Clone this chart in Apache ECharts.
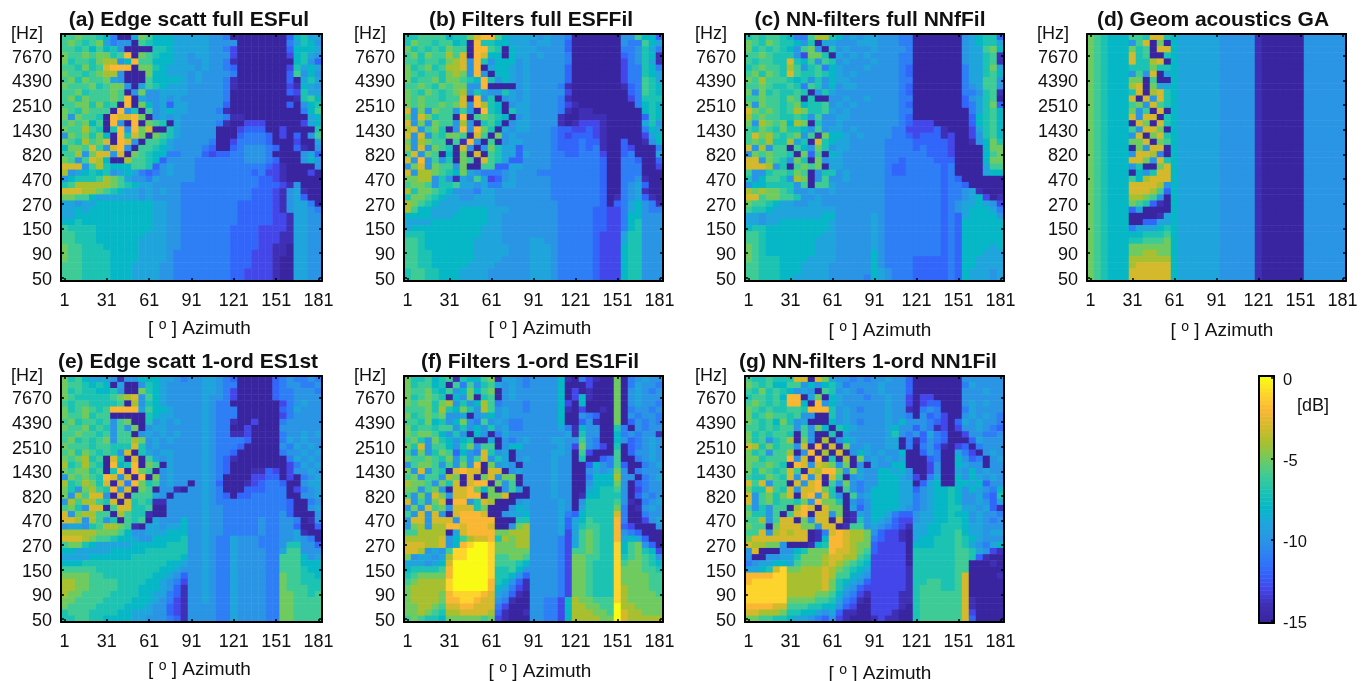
<!DOCTYPE html>
<html><head><meta charset="utf-8">
<style>html,body{margin:0;background:#fff}#c{width:1368px;height:681px}</style>
<script src="https://cdn.jsdelivr.net/npm/echarts@6/dist/echarts.min.js"></script>
</head><body><div id="c"></div><script>
// 37 azimuth columns, 40 frequency rows.
const azimuth=['1','6','11','16','21','26','31','36','41','46','51','56','61','66','71','76','81','86','91','96','101','106','111','116','121','126','131','136','141','146','151','156','161','166','171','176','181'];
const freqLabels=['50','','','','90','','','','150','','','','270','','','','470','','','','820','','','','1430','','','','2510','','','','4390','','','','7670','','',''];
const barLevels=[-15,-14.75,-14.5,-14.25,-14,-13.75,-13.5,-13.25,-13,-12.75,-12.5,-12.25,-12,-11.75,-11.5,-11.25,-11,-10.75,-10.5,-10.25,-10,-9.75,-9.5,-9.25,-9,-8.75,-8.5,-8.25,-8,-7.75,-7.5,-7.25,-7,-6.75,-6.5,-6.25,-6,-5.75,-5.5,-5.25,-5,-4.75,-4.5,-4.25,-4,-3.75,-3.5,-3.25,-3,-2.75,-2.5,-2.25,-2,-1.75,-1.5,-1.25,-1,-0.75,-0.5,-0.25,0];
// Cell values: attenuation in dB as one hex digit (0 = 0 dB ... f = -15 dB), top row first.
const panelA=[
'665667 8bff95 688899 999aab ffffff ffc879 9',
'656765 9baaf6 788899 999aaa afffff ffb978 a',
'667686 87afff f77899 999aab dfffff ffc888 9',
'566565 5762f5 678899 a99aaa dfffff ffd879 a',
'576675 44a826 688899 aa9aab efffff fff87a c',
'667576 3222f5 578999 9a9aab cfffff ffd798 9',
'566765 44afff 588999 a9aaaa bfffff ffc6a8 a',
'657566 59afff 688889 a9aaab efffff ffcf97 9',
'566657 655af9 678999 aaaaab efffff ffde89 a',
'665766 656fa5 aa9999 aaaaab ffffff ffcd79 9',
'657566 6562f9 aa9a9a aaaaab ffffff fffe76 8',
'665575 76f2f5 8a9c99 aaaaac ffffff ffcfa8 7',
'567566 6f2a7f 6a9899 aaaabe ffffff ffffb8 6',
'5a5667 f23325 fa9a9a aaaaab eeffff fffff9 8',
'656586 f2af2f 567f9a aaaabe ffdddf ffffd9 8',
'566467 f72a25 3ff79a aaaaff fdcccf fdffff 7',
'a56575 8f2735 f5679a aaaaff fcbbbc fdfcfa 6',
'567465 3f23af 6679aa aaabff dbbbbc fffdff 9',
'855636 a32af6 6789aa aabcff cbaaab cffcef a',
'664a53 3a3f56 788bba aacdcc bbaaab ffffa9 c',
'56a634 8ff466 78caaa abbbbb bbaaab cfffa8 a',
'333a64 788866 7ca9aa abbbbb bbbbbc deffff a',
'4a9878 7a989b cba9aa abbbbb bbbcbd defffd f',
'a87776 4569aa b9aaaa abbbbb bbbbcc deffff f',
'764444 456789 9aaaab bbbbbb bbbbcc cdeaff f',
'333445 67899a 9a9aab bbbbbb bbbccc dea9ef f',
'556689 99999a 9aaaab bbbbbb bbbccc dea9cf f',
'99a998 888888 899aab bbbbbb bccccc dea99b f',
'998988 888888 899aab bbbbbb bccccc dea99a b',
'998888 888888 899aab bbbbbb bccccc dde99a a',
'887888 888888 899aab bbbbbb bccccc dde99a a',
'677778 888888 899aab bbbbbb ccccdd dde99a a',
'667778 888888 999aab bbbbbb ccccdd dee99a a',
'667778 888889 999aab bbbbbb ccccdd dee99a a',
'566777 888889 999aab bbbbbb ccccdd eef99a a',
'566777 788889 999abb bbbbbb cccddd eef99a a',
'566777 788889 999abb bbbbbb cccddd eff99a a',
'666777 788899 99aabb bbbbbb cccddd eff99a a',
'666777 788899 99aabb bbbbbb ccdddd eff99a a',
'666777 788899 99aabb bbbbbb ccdddd eff99a a'];
const panelB=[
'776666 877532 268999 9a9aab ffffff faa688 c',
'756676 687f27 788999 a99aac ffffff fabb68 9',
'576767 566f22 67f899 9aaaac ffffff fbba79 b',
'657566 463f23 88f899 a9aaab ffffff fcba78 e',
'667667 543a27 a888a9 aaaaab ffffff fdba79 e',
'576576 443a2f 9889a9 aaaaac ffffff fdbb78 b',
'567667 545a2a f889a9 aaaaac ffffff fdbb78 9',
'576657 556782 7a89a9 aaaaac ffffff fdbb67 9',
'665675 655aa2 ffffa9 aaaabe ffffff fecb67 8',
'567567 654a79 aa79a9 aaaaad ffffff ffcb67 8',
'565667 663f2a 7fa9a9 aaaabe ffffff ffdb77 7',
'565665 653a24 78fa99 aaaabd efffff fffb87 8',
'3a5a56 6a6af2 78f799 aaaabe feefff ffff87 8',
'5a3576 6f2f65 678fa9 aaaaef feeeef ffffc7 8',
'3a5a56 6a4af7 68fa99 aaaaef edddef ffff97 a',
'43a657 fa2a25 7f9a99 aaabcc ddcdef ffffb8 9',
'3a3a67 556f36 f5a9aa aaabcd cccdef ffffd9 8',
'5a4566 f6e2af 6fa99a aaabcc cbccef fcffea 8',
'4a3a56 7f3afa 5799ca aaabcc cbcbef fcdfff b',
'63a56f 8f5f3f 6799c9 aaabbc cbbbdf fcbfff 9',
'3a2a6a 7f56f3 679cca aaabbb bbbbcf fbbcff c',
'a53a56 6a5ff6 6cc99a aaabbb bbbbcf fbbbff d',
'3a4456 7859ab bba9aa abbbbb bbbbcf fbbbff f',
'5544a7 ae9a69 dca9aa aaabbb bbbbcf fbbaef f',
'6556a7 7699a9 bb99aa aaabbb bbbbcf fba9cf f',
'475567 8aaab9 9aaaaa aaabbb bbbbcf fba9ef f',
'755678 99aa99 9aaaaa aaabbb bbbbcf eba9ce f',
'456789 999999 9aaaaa aaaabb bbbbcf cb98ab e',
'468899 998888 999aaa aaaabb bbbccd db98ab b',
'888899 988888 99aaaa aaaabb bbbccd db88aa a',
'999988 888888 99aaaa aaaabb bbbccd db87aa a',
'988888 888889 99aaaa aaaabb bbbccd db87aa a',
'777888 888889 99aaaa aaaabb bbbcdd d977aa a',
'667888 888899 99aaaa 99aabb bbbcdd d977aa a',
'667888 888899 999aaa 999abb bbbcdd d877aa a',
'667788 888899 999aaa 999abb bbbcdd d877aa a',
'667788 888899 99aaaa 999abb bbbcdd d877aa a',
'667788 888999 9aaaaa 999abb bbbcdd d877aa a',
'766778 889999 aaaaaa 999abb bbbcdd d877aa a',
'766778 889999 aaaaaa 999abb bbbcdd d877aa a'];
const panelC=[
'767667 8bb644 78a9a9 9aaabb ffffff fa9877 c',
'567567 78a7f9 9aaa99 9aaabb ffffff fa9877 9',
'576767 8a65af 7a9aaa 9aaaab ffffff fa9965 8',
'665677 7ad557 f9a9a9 aaaabb ffffff fa9976 e',
'676677 3786a6 7a9aaa 9aaabb ffffff fa9976 e',
'765667 46a76b 89aaa9 aaaabc ffffff fb9975 9',
'657567 367767 89a9aa aaaabc ffffff fb9976 8',
'564666 787a7a 899aaa aaaabb ffffff fb9966 a',
'665677 67b67a 8a99aa aaaabc ffffff fba966 a',
'5a5767 767fa7 9aaaaa aaaabc ffffff fbba76 e',
'665667 56f7ff aa9aa9 aaaabb ffffff fca976 f',
'5a5667 658776 a9a9aa aaaabc ffffff fcb975 c',
'356567 645776 9a9aaa aaaabb ffffff ffb976 8',
'465667 767a6a a99aaa aaaabc ffffff ffc876 8',
'5a4565 845f7a a9aaaa aaaabc dddfff ffc876 8',
'675675 778a6a 99a9aa aaabbd dddcef ffd976 8',
'635467 65a6e5 889a9a aaabbc dccced ffda76 8',
'656477 497f37 899aaa aabbbb cccccd ffea85 7',
'3a4a66 f68a57 a99aaa aabbbb cbcccd ffff85 5',
'a56566 7f5c6f 89aaaa aabbbb bbcccd ffff86 5',
'33a567 a57f5a 99aaaa aabbcb bbbccc ffff85 5',
'3334a7 f6565f 99aaaa aabccb bbbbcb ffff96 6',
'6aa766 756fa7 7a9aaa aabccb bbbbcb ffff98 8',
'7a8667 a45fa6 aa9aaa aabbbb bbbbcb cfffff f',
'a88777 7a6f66 9aaaaa aabbbb bbbbcb bcffff f',
'454556 7aa9aa 9aaaaa aabbbb bbbbcb ba9eff f',
'336556 67aa9a aaaaaa aabbbb bbbbcb ba98df e',
'566789 9aa99a aaaaaa aabbbb bbbbcb a9989a d',
'677899 999999 9aaaaa aabbbb bbbbcb a98889 b',
'99a999 999998 8aaaaa 9abbbb bbbbcb c98888 a',
'99a998 888888 9aaaaa 9abbbb bbbbcb c88888 8',
'877888 888888 9aaaaa 9abbbb bbbbcb c88888 8',
'667888 888889 9aaaaa 9abbbb bbbbcb c88888 8',
'667888 888899 9aaaaa 9abbbb bbbbcb c88888 8',
'567888 888899 9aaaaa 9abbbb bbbbcb c88889 8',
'567888 888899 9aaaaa 8abbbb bbbbcb c88899 9',
'567778 888999 9aaaaa 8abbbb cccccb c88999 9',
'667778 889999 aaaaaa 8abbbb cccccb c88999 9',
'667778 889999 aaaaaa 89abbb cccccb c8999a 9',
'667778 899999 aaaaab 89abbb cccccb c8999a 9'];
const panelD=[
'567888 667337 899999 9aaaaa efffff faaaaa a',
'567888 a63f5f 899999 9aaaaa efffff faaaaa a',
'567888 576f33 899999 9aaaaa efffff faaaaa a',
'567888 376ff7 899999 9aaaaa efffff faaaaa a',
'567888 37743f 899999 9aaaaa efffff faaaaa a',
'567888 777577 899999 9aaaaa efffff faaaaa a',
'567888 a6a3f9 899999 9aaaaa efffff faaaaa a',
'567888 55f6ff 899999 9aaaaa efffff faaaaa a',
'567888 43f599 899999 9aaaaa efffff faaaaa a',
'567888 73f437 899999 9aaaaa efffff faaaaa a',
'567888 3f3a37 899999 9aaaaa efffff faaaaa a',
'567888 65a367 899999 9aaaaa efffff faaaaa a',
'567888 5a6f3f 899999 9aaaaa efffff faaaaa a',
'567888 3a33f7 899999 9aaaaa efffff faaaaa a',
'567888 f35f37 899999 9aaaaa efffff faaaaa a',
'567888 6a335f 899999 9aaaaa efffff faaaaa a',
'567888 a3f537 899999 9aaaaa efffff faaaaa a',
'567888 553f56 899999 9aaaaa efffff faaaaa a',
'567888 f5a33f 899999 9aaaaa efffff faaaaa a',
'567888 a334bf 899999 9aaaaa efffff faaaaa a',
'567888 335a37 899999 9aaaaa efffff faaaaa a',
'567888 a7ff53 899999 9aaaaa efffff faaaaa a',
'567888 f8a733 899999 9aaaaa efffff faaaaa a',
'567888 684333 899999 9aaaaa efffff faaaaa a',
'567888 33334a 899999 9aaaaa efffff faaaaa a',
'567888 33346c 899999 9aaaaa efffff faaaaa a',
'567888 4456af 899999 9aaaaa efffff faaaaa a',
'567888 567cef 899999 9aaaaa efffff faaaaa a',
'567888 c9ffff 899999 9aaaaa efffff faaaaa a',
'567888 ffffe9 899999 9aaaaa efffff faaaaa a',
'567888 ffcc99 899999 9aaaaa efffff faaaaa a',
'567888 b99987 899999 9aaaaa efffff faaaaa a',
'567888 887776 899999 9aaaaa efffff faaaaa a',
'567888 776665 899999 9aaaaa efffff faaaaa a',
'567888 555555 899999 9aaaaa efffff faaaaa a',
'567888 554455 899999 9aaaaa efffff faaaaa a',
'567888 444444 899999 9aaaaa efffff faaaaa a',
'567888 433333 899999 9aaaaa efffff faaaaa a',
'567888 333333 899999 9aaaaa efffff faaaaa a',
'567888 333333 899999 9aaaaa efffff faaaaa a'];
const panelE=[
'576899 9aeaa8 8899ab aa99ab cfffff cbabba b',
'566787 8f9ffa 789aaa aa99ab bfffff cbaabb a',
'576778 87aff5 789aaa aa99ab dfffff cbbaaa b',
'567777 76543a 689aaa aa9aab dfffff cbbaaa a',
'676677 776f4a 789aaa aa9abb ffffff fdba9a a',
'576567 622229 6889aa aa9abb bfffff fcb9aa a',
'566576 6fffff 7899aa aa9abb bfffff fdbaaa a',
'657667 6a65ff 7a9a9a aa9abb effdff fbaaaa a',
'566576 7a6a5f a99aaa aa9abb ffdfff faaaaa a',
'665667 6a66fa 9a9a9a aa9abb eedfff fbaa9a 9',
'657676 5a6645 a9a9aa aa9abb bbcfff fb9a9a a',
'566676 677737 a9aaaa aa9abb bcffff fab9a9 a',
'657567 67a3f7 9a99aa aa9abb cfffff fbaa9a 9',
'565476 f37f3f 69a9aa aa9abc efffff ffb9a9 a',
'476467 f2872f 56f9aa aa9abc ffffff ffdb9a 9',
'565576 f72f25 6fa9aa aa9abc fffeec dfdaa9 a',
'a56567 23a3f2 f5a9aa aa9abf fffddc cfdfba 9',
'476457 3f3b25 76a9aa fa9acf ffedcb bcffa9 9',
'57a546 72a3f5 6faaef aa9abf ffcccb bbfdba 9',
'5a4633 af3f66 69afaa aa9abc fccbbb bbffaa 9',
'a46446 73f376 7eeaaa aa9abb bbbbbb bbcffb a',
'657a33 f63377 6ffaaa aa9aab bbbbbb bbcffa 9',
'3a5446 6f4677 effaaa aa9aab bbbbbb bacfff a',
'334a46 a7f676 f9aaa8 aa9aab bbbbab baabfe a',
'a99a76 4456ef 99a998 aa9aab bbbbab baacff c',
'444445 5568aa 999888 aa9aab bbbbab baa9ef f',
'333456 67889a a88887 aa9abb 9aaabb baa9ab f',
'655789 999988 888777 aa9abb 9aaabb ba77aa c',
'889999 988888 777777 aa9abb 9aaaab b966aa a',
'999988 888877 777778 aa9abb 9aaaab b6668a 9',
'888777 777777 777889 aa9abb 9aaaab b66688 8',
'666667 777777 77889a aa9abb 9aaaab b66678 8',
'555566 777777 7889ac aa9abb 9aaaab b56677 8',
'445566 667777 889abd aa9abb 9aaaab b56677 7',
'445566 667778 889ace aa9abb 9aaaab b56667 7',
'455666 677778 899bce aa9abb 9aaaab b55667 6',
'556666 777788 89abde aa9abb 9aaaab b55666 6',
'566667 777888 9aacde aaaabb 9aaaab b55666 6',
'766677 778899 9aacde aaaabb 9aaaab b55666 6',
'776677 888899 aaabce aaaabb 9aaaab b55666 6'];
const panelF=[
'577687 6e7886 5f99ab aaaa8e fbdeff 5fba9a a',
'576687 f6b6a7 69a9ab aaaa8f ffdfff 5fb9aa b',
'566578 6a8586 5fa9aa aaaa8f dfefff 5fa9ab a',
'576567 f8a5f7 6fa9aa aaaa8f d8efff 5fa9aa a',
'565575 4a7a84 6baaab aaaa8d f8ffff 5fa9aa b',
'666574 7857a4 6a9aab aaaa8e fdffef 5fbaab a',
'576565 aa9fa9 8a9aaa aaaa8f fabcff 5fabaa b',
'667587 a85ab6 a9abba aaaa8f fcaeff 5fcaba b',
'576676 6a7a8a 7a9bba aaaa9b e8aaff 7bfaba a',
'565568 a7af8a fb9aaa aaaaa9 e7aaff 8babaa e',
'657a57 8a87ff 9faba9 aaa99a a6abff 8acba9 a',
'573a66 8a75a6 6fa88a aaaa9a d5abdf 7fcba9 a',
'6a5a75 6c8ab3 7a9faa aaa99a f6dfff 6fcaa9 a',
'566567 5a6a63 a79fa9 aaa9aa f7ffcb 6ffba9 a',
'a6556a 6a5a2f 5a9afa aaa9aa ffc8ab 6cffba 9',
'5a3a67 f3233f 33fa9a aaa9aa ffa9a9 5afbaa a',
'65a66a 45f3f5 3a55fa aaa9aa ffb888 4aafba 9',
'4556a5 73f322 f5a6fa aaa9aa ffa888 5afcba a',
'55a65a f33258 5fa69f aaa9aa ff9877 6afdba a',
'6a5a35 a3322f 553fff aaa9aa fe8877 7afcab a',
'3a6a53 f22a73 4fffa9 aaaa9a fa7777 6aefba 9',
'a5a365 a33375 fffa89 aaaa9a f97777 5bfea9 a',
'6a3a3a f32223 ffa998 aaaa9b c87777 3bffba a',
'a33a33 3a2222 2fff77 aaaa9c 986777 2bffda 9',
'a54a44 223222 3ffa54 aaaa9c 976677 2cdfff a',
'664444 f93222 255444 aaaa9d 965677 2abcff f',
'444443 a86433 274544 aaaabd 965677 2989cf f',
'333443 a82100 155544 aaaabd 965677 1865ac f',
'334a9a 611000 155555 aaaabd 665677 186578 d',
'5a99a9 411000 166556 aaaabd 556677 176567 a',
'999a98 300000 166678 aaaabd 556777 165567 8',
'877776 200000 17768a aaaabd 556777 155566 7',
'765555 200000 1778ac aaaabd 556777 155556 6',
'654444 100000 278ace aaaabd 556777 155556 6',
'544444 100000 289bde aaaabd 556777 145556 6',
'544445 211112 39acef aaaabd 556777 145555 6',
'544445 221123 3abeff aabbd8 455666 145555 5',
'554456 332233 3bdfff aabbd8 445566 044555 5',
'554567 443333 4ceffe aabbd8 444556 034455 5',
'656778 555556 5defff aabbd8 444455 034444 4'];
const panelG=[
'677677 733f35 9aabab aa9aac ffffff faaaaa a',
'567688 66a8a8 79baaa a9aaac ffffff fb9aaa a',
'675767 8a9af6 7a9aba a9aaac ffffff faaa9a a',
'766768 22f95f 89aaab aa9aad fddfff faaaaa a',
'656767 228f2a 89aaaa aa9aad fdccff fa9a9a a',
'567677 667222 7a9aba aa9aae fbabff fb9aaa a',
'576566 76aaff 7a9aaa aa9aab facbdf fa9a9a b',
'567685 7a9fff 8a9aba aa9a8a aabcdf c9a9aa b',
'667676 6a6a58 f789aa aa98aa cabedf daa9ab c',
'576766 7f6aff 7f9aaa aa97ab ac9bcf fdaabb a',
'576a76 4f5af4 fa89aa aa99fb ecabcf ffc9aa a',
'347576 6a3f2f 3f5aa9 aa99fb fbacef dcfbaa a',
'576a66 4fa2f4 f3fa89 a9aa8f fcabff 9bdfa9 a',
'557666 2a3f2f 7f4f5a 9a9a9f ffcbff 8acbfa 9',
'566567 f23a34 5a5faf 9aa88f ffdaff 89aafa a',
'575676 36f342 25a59a a8898a ffdaff 9a8a9a a',
'677567 3a2a3f 36fa9a a8889a dfb9ff 8a89a9 a',
'363a66 f3a32f 6a5aba a88899 fc98ff 8898ca a',
'577367 3a3325 7f6aba 888899 ca9887 8a89ab 8',
'3a6575 3f32a3 7af6a9 888899 ba9887 8aa9bc 7',
'3a6576 675a25 57faba 888899 ba9887 8aa9ac 9',
'6a7a66 f423f3 55f9ca 88889a ba9887 799a9c e',
'577a6f 632f33 a5fe9a 889bcc a99887 88a9aa b',
'664a63 3f5a33 f3fe7a 89acdd a99887 78a9ab a',
'566f53 3355a3 3fe66a 9abcde 998877 7899aa a',
'663a43 433feb 323445 acddef 998877 6899a9 9',
'533333 333fe8 223445 bcddef 988777 6789aa a',
'34455a fffe87 223455 cddddf 888777 679ab9 8',
'a3fffa a87555 233456 cddddf 777777 6679ad e',
'affaa9 975554 334467 dddddf 777777 667cef f',
'ba9988 965554 345678 dddddf 777777 66fffe f',
'998731 554443 456789 ddddde 777777 66ffff f',
'222211 444443 46689a ddddde 777777 63ffff e',
'211111 444443 5789ac ddddde 776677 63ffff f',
'111111 444443 579acd ddddde 766677 63ffff f',
'111111 444455 68abde ddddee 766666 63ffff f',
'111111 555566 79bcef ddddee 766666 63efff f',
'222233 666778 8acdff ddddef 766666 63efff f',
'334445 77889a 9ceeff dddeff 766666 63dfff f',
'556677 899abc adefff edeeff 766666 63cfff f'];
const colorStops=['#3a25a0','#3f2fb5','#4347ea','#3266fa','#2e7ff5','#2a95e4','#1fa5dc','#06b7c6','#1cc3b2','#3fcb96','#6fcb5f','#a8c02f','#d3b92b','#f9b734','#fdd42c','#f9fb15'];

const panels=[
 {t:'(a) Edge scatt full ESFul',d:panelA,l:61,r:322,top:34,b:281,n:37,c:189,s:16},
 {t:'(b) Filters full ESFFil',d:panelB,l:404,r:663,top:34,b:281,n:37,c:531,s:13},
 {t:'(c) NN-filters full NNfFil',d:panelC,l:745,r:1004,top:34,b:281,n:39,c:870,s:11},
 {t:'(d) Geom acoustics GA',d:panelD,l:1087,r:1346,top:34,b:281,n:39,c:1213,s:11},
 {t:'(e) Edge scatt 1-ord ES1st',d:panelE,l:61,r:322,top:376,b:622,n:37,c:188,s:16},
 {t:'(f) Filters 1-ord ES1Fil',d:panelF,l:404,r:663,top:376,b:622,n:39,c:530,s:13},
 {t:'(g) NN-filters 1-ord NN1Fil',d:panelG,l:745,r:1004,top:376,b:622,n:41,c:868,s:11}];
const font='"Liberation Sans",Arial,sans-serif';
const W=1368,H=681;
const grid=[],xAxis=[],yAxis=[],series=[],title=[];
const line={show:true,onZero:false,lineStyle:{color:'#000',width:2}};
panels.forEach((p,i)=>{
  grid.push({left:p.l,top:p.top,width:p.r-p.l,height:p.b-p.top,containLabel:false,outerBoundsMode:'none'});
  const tick={show:true,inside:true,length:3,alignWithLabel:true,interval:5,lineStyle:{color:'#000',width:1.5}};
  const yTick={show:true,inside:true,length:3,alignWithLabel:true,interval:3,lineStyle:{color:'#000',width:1.5}};
  xAxis.push({type:'category',gridIndex:i,position:'bottom',data:azimuth,z:5,axisLine:line,axisTick:tick,
    axisLabel:{interval:5,fontSize:18,color:'#111',fontFamily:font,margin:11,hideOverlap:false},splitLine:{show:false},
    name:'[ {s|o} ] Azimuth',nameLocation:'middle',nameGap:p.n,
    nameTextStyle:{fontSize:19,color:'#111',fontFamily:font,padding:[0,0,0,p.s],rich:{s:{fontSize:14,padding:[0,0,8,0],fontFamily:font,color:'#111'}}}});
  xAxis.push({type:'category',gridIndex:i,position:'top',data:azimuth,z:5,axisLine:line,axisTick:tick,axisLabel:{show:false},splitLine:{show:false}});
  yAxis.push({type:'category',gridIndex:i,position:'left',data:freqLabels,z:5,axisLine:line,axisTick:yTick,
    axisLabel:{interval:3,fontSize:18,color:'#111',fontFamily:font,margin:9,verticalAlign:'top',lineHeight:4,hideOverlap:false},splitLine:{show:false},
    name:'[Hz]',nameLocation:'end',nameGap:-9,nameTextStyle:{fontSize:18,color:'#111',fontFamily:font,align:'right',padding:[0,18,0,0]}});
  yAxis.push({type:'category',gridIndex:i,position:'right',data:freqLabels,z:5,axisLine:line,axisTick:yTick,axisLabel:{show:false},splitLine:{show:false}});
  const cells=[];
  p.d.forEach((row,ri)=>{
    row.replace(/ /g,'').split('').forEach((ch,c)=>cells.push([c,39-ri,-parseInt(ch,16)]));
  });
  series.push({type:'heatmap',xAxisIndex:2*i,yAxisIndex:2*i,data:cells,progressive:0,animation:false,emphasis:{disabled:true},itemStyle:{borderWidth:0}});
  title.push({text:p.t,left:p.c-5,top:p.top-29,textAlign:'center',textStyle:{fontSize:21,fontWeight:'bold',color:'#111',fontFamily:font}});
});
// colour bar
const bi=panels.length;
grid.push({left:1259,top:376,width:15,height:247,outerBoundsMode:'none'});
xAxis.push({type:'category',gridIndex:bi,data:['dB'],z:5,axisLine:line,axisTick:{show:false},axisLabel:{show:false}});
xAxis.push({type:'category',gridIndex:bi,position:'top',data:['dB'],z:5,axisLine:line,axisTick:{show:false},axisLabel:{show:false}});
yAxis.push({type:'category',gridIndex:bi,position:'left',data:barLevels.map(String),z:5,axisLine:line,axisTick:{show:false},axisLabel:{show:false}});
yAxis.push({type:'category',gridIndex:bi,position:'right',data:barLevels.map(String),z:5,axisLine:line,
  axisTick:{show:true,inside:true,length:3,alignWithLabel:true,interval:19,lineStyle:{color:'#000',width:1.5}},
  axisLabel:{interval:19,fontSize:16.5,color:'#111',fontFamily:font,margin:9,verticalAlign:'top',lineHeight:4,hideOverlap:false}});
series.push({type:'heatmap',xAxisIndex:2*bi,yAxisIndex:2*bi+1,data:barLevels.map((v,k)=>[0,k,v]),progressive:0,animation:false,emphasis:{disabled:true}});
title.push({text:'[dB]',left:1292,top:392,textStyle:{fontSize:18,fontWeight:'normal',color:'#111',fontFamily:font}});
const chart=echarts.init(document.getElementById('c'),null,{renderer:'canvas',width:W,height:H});
chart.setOption({animation:false,backgroundColor:'#fff',title,grid,xAxis,yAxis,series,
  visualMap:{show:false,type:'continuous',min:-15,max:0,dimension:2,seriesIndex:series.map((s,i)=>i),inRange:{color:colorStops}}});
</script></body></html>
